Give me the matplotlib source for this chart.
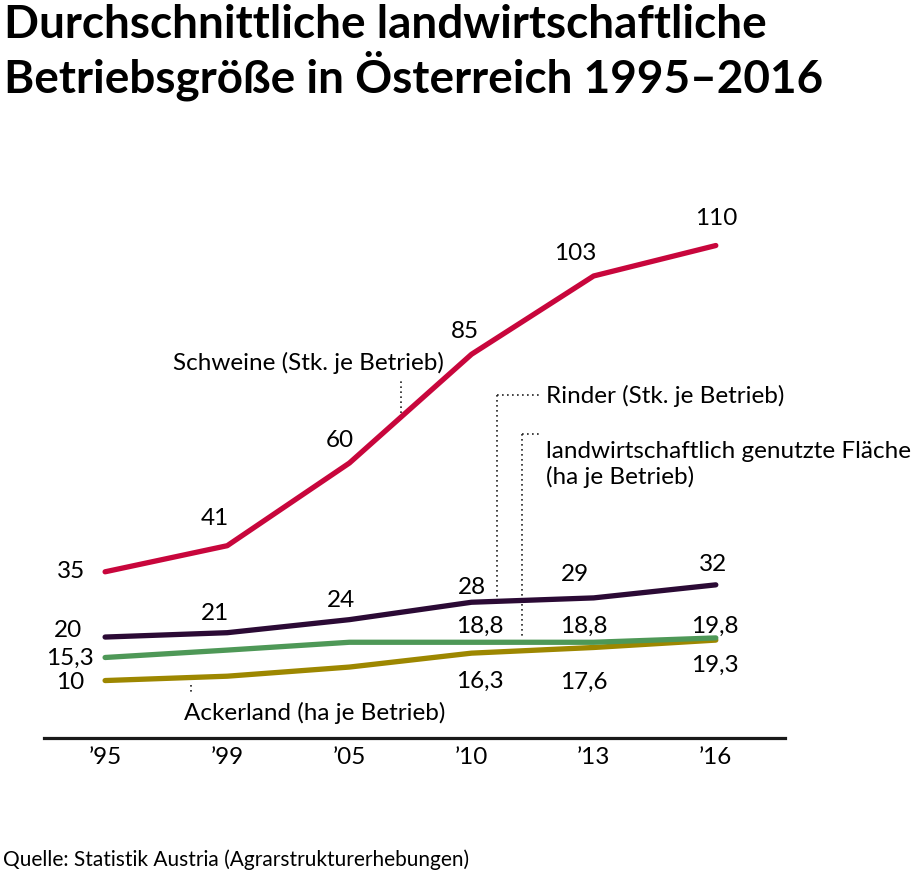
import matplotlib
matplotlib.use('Agg')
import matplotlib.pyplot as plt

plt.rcParams['font.family'] = ['Lato', 'DejaVu Sans']

years = ['\u201995', '\u201999', '\u201905', '\u201910', '\u201913', '\u201916']
schweine = [35, 41, 60, 85, 103, 110]
rinder = [20, 21, 24, 28, 29, 32]
flaeche = [15.3, 17.0, 18.8, 18.8, 18.8, 19.8]
ackerland = [10, 11.0, 13.1, 16.3, 17.6, 19.3]

# which points carry a value label
lab_schweine = [0, 1, 2, 3, 4, 5]
lab_rinder = [0, 1, 2, 3, 4, 5]
lab_flaeche = [0, 3, 4, 5]
lab_acker = [0, 3, 4, 5]

c_schweine = '#c8063c'
c_rinder = '#2b0a35'
c_flaeche = '#4e9857'
c_acker = '#9d8700'

def fmt(v):
    s = ('%g' % v)
    return s.replace('.', ',')

fig = plt.figure(figsize=(9.21, 8.79), dpi=100)
ax = fig.add_axes([0.0478, 0.1593, 0.805, 0.6132])
x = list(range(len(years)))

for vals, col in [(ackerland, c_acker), (flaeche, c_flaeche), (rinder, c_rinder), (schweine, c_schweine)]:
    ax.plot(x, vals, color=col, lw=3.8, solid_capstyle='round', solid_joinstyle='round', zorder=3)

fs = 17.5
# Schweine labels (above, first one left)
off_s = [(-0.28, 0.3), (-0.1, 6.5), (-0.08, 5.5), (-0.05, 5.5), (-0.15, 5.5), (0.0, 6.5)]
for i in lab_schweine:
    dx, dy = off_s[i]
    ax.text(i + dx, schweine[i] + dy, fmt(schweine[i]), fontsize=fs, ha='center', va='center')
off_r = [(-0.3, 1.8), (-0.1, 4.7), (-0.07, 4.7), (0.0, 3.7), (-0.15, 5.6), (-0.02, 4.9)]
for i in lab_rinder:
    dx, dy = off_r[i]
    ax.text(i + dx, rinder[i] + dy, fmt(rinder[i]), fontsize=fs, ha='center', va='center')
off_f = {0: (-0.29, 0.0), 3: (0.07, 4.0), 4: (-0.08, 4.0), 5: (-0.01, 2.8)}
for i in lab_flaeche:
    dx, dy = off_f[i]
    ax.text(i + dx, flaeche[i] + dy, fmt(flaeche[i]), fontsize=fs, ha='center', va='center')
off_a = {0: (-0.29, -0.3), 3: (0.07, -6.3), 4: (-0.08, -7.8), 5: (-0.01, -5.6)}
for i in lab_acker:
    dx, dy = off_a[i]
    ax.text(i + dx, ackerland[i] + dy, fmt(ackerland[i]), fontsize=fs, ha='center', va='center')

# series annotations with dotted leaders
dot = dict(color='#222222', lw=1.2, ls=(0, (1, 2)), zorder=2)
ax.text(2.77, 83.3, 'Schweine (Stk. je Betrieb)', fontsize=fs, ha='right', va='center')
ax.plot([2.42, 2.42], [71.5, 79.2], **dot)

ax.text(3.61, 75.6, 'Rinder (Stk. je Betrieb)', fontsize=fs, ha='left', va='center')
ax.plot([3.21, 3.57, ], [75.6, 75.6], **dot)
ax.plot([3.21, 3.21], [75.6, 28.5], **dot)

ax.text(3.61, 65.3, 'landwirtschaftlich genutzte Fl\u00e4che\n(ha je Betrieb)', fontsize=fs,
        ha='left', va='top', linespacing=1.2)
ax.plot([3.41, 3.57], [66.6, 66.6], **dot)
ax.plot([3.41, 3.41], [66.6, 19.6], **dot)

ax.text(0.65, 2.7, 'Ackerland (ha je Betrieb)', fontsize=fs, ha='left', va='center')
ax.plot([0.7, 0.7], [9.0, 7.0], **dot)

ax.set_xlim(-0.5, 5.57)
ax.set_ylim(-3.2, 120.7)
ax.set_xticks(x)
ax.set_xticklabels(years, fontsize=fs)
ax.tick_params(axis='x', length=0, pad=6)
ax.set_yticks([])
for side in ['top', 'right', 'left']:
    ax.spines[side].set_visible(False)
ax.spines['bottom'].set_linewidth(2.3)
ax.spines['bottom'].set_color('#1a1a1a')

fig.text(0.004, 0.995, 'Durchschnittliche landwirtschaftliche\nBetriebsgr\u00f6\u00dfe in \u00d6sterreich 1995\u20132016',
         fontsize=33, fontweight='bold', ha='left', va='top', linespacing=1.1)
fig.text(0.003, 0.022, 'Quelle: Statistik Austria (Agrarstrukturerhebungen)', fontsize=15,
         ha='left', va='center')

fig.savefig('out.png', dpi=100)
